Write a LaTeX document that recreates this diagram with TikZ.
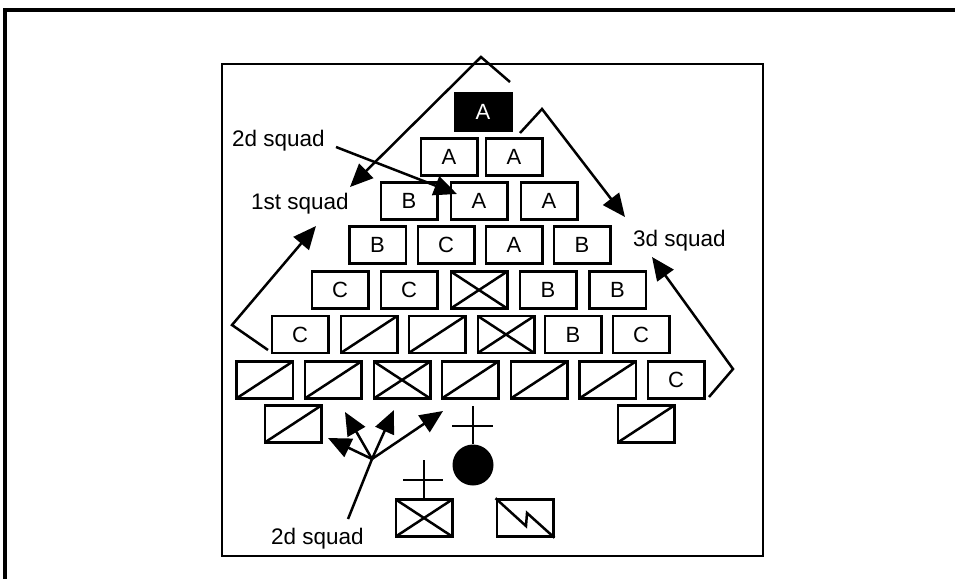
\documentclass[tikz,border=0pt]{standalone}
\usepackage{fontspec}
\setmainfont{Liberation Sans}
\usetikzlibrary{arrows.meta}
\newcommand{\boxfont}{\fontsize{22}{25}\selectfont}
\newcommand{\labfont}{\fontsize{22.5}{26}\selectfont}
\tikzset{
  unitbox/.style={draw, line width=2.5pt, minimum width=56.5pt, minimum height=37pt, inner sep=0pt, font=\boxfont},
  blackbox/.style={unitbox, fill=black, text=white},
  slashbox/.style={unitbox, path picture={\draw[line width=2.5pt] (path picture bounding box.south west) -- (path picture bounding box.north east);}},
  crossbox/.style={unitbox, path picture={\draw[line width=2.5pt] (path picture bounding box.south west) -- (path picture bounding box.north east) (path picture bounding box.north west) -- (path picture bounding box.south east);}},
  lab/.style={anchor=base west, inner sep=0pt, font=\labfont},
  arr/.style={line width=2.5pt, -{Triangle[length=23pt 0 0,width=20pt 0 0]}},
  ln/.style={line width=2.5pt},
}
\begin{document}
\begin{tikzpicture}[x=1pt,y=-1pt]
\useasboundingbox (0,0) rectangle (955,579);
% frames
\draw[line width=3.5pt] (955,10) -- (5,10) -- (5,579);
\draw[line width=2.8pt] (222,64) rectangle (763,556);
% row 1
\node[blackbox] (r1a) at (483,112) {A};
% row 2
\node[unitbox] (r2a) at (449,157) {A};
\node[unitbox] (r2b) at (514,157) {A};
% row 3
\node[unitbox] (r3a) at (409,201) {B};
\node[unitbox] (r3b) at (479,201) {A};
\node[unitbox] (r3c) at (549,201) {A};
% row 4
\node[unitbox] (r4a) at (377.5,245) {B};
\node[unitbox] (r4b) at (446,245) {C};
\node[unitbox] (r4c) at (514,245) {A};
\node[unitbox] (r4d) at (582,245) {B};
% row 5
\node[unitbox] (r5a) at (340,290) {C};
\node[unitbox] (r5b) at (409,290) {C};
\node[crossbox] (r5c) at (479,290) {};
\node[unitbox] (r5d) at (548,290) {B};
\node[unitbox] (r5e) at (617.5,290) {B};
% row 6
\node[unitbox] (r6a) at (300,334.5) {C};
\node[slashbox] (r6b) at (369,334.5) {};
\node[slashbox] (r6c) at (437,334.5) {};
\node[crossbox] (r6d) at (506,334.5) {};
\node[unitbox] (r6e) at (573,334.5) {B};
\node[unitbox] (r6f) at (641,334.5) {C};
% row 7
\node[slashbox] (r7a) at (264.5,380) {};
\node[slashbox] (r7b) at (333,380) {};
\node[crossbox] (r7c) at (402,380) {};
\node[slashbox] (r7d) at (470,380) {};
\node[slashbox] (r7e) at (539,380) {};
\node[slashbox] (r7f) at (607.5,380) {};
\node[unitbox] (r7g) at (676,380) {C};
% row 8
\node[slashbox] (r8a) at (293,424) {};
\node[slashbox] (r8b) at (646,424) {};
% bottom symbols
\node[crossbox] (hq) at (424,518) {};
\node[unitbox] (sig) at (525,518) {};
\draw[ln] (sig.north west) -- (526,526) -- (527,513) -- (sig.south east);
\node[circle, fill=black, minimum size=41pt, inner sep=0pt] (dot) at (473,465) {};
\coordinate (c1top) at (473,406);
\draw[ln] (c1top) -- (dot.north);
\coordinate (c1l) at (452,426); \coordinate (c1r) at (493,426);
\draw[ln] (c1l) -- (c1r);
\coordinate (c2top) at (hq.north |- 0,460);
\draw[ln] (c2top) -- (hq.north);
\coordinate (c2l) at (403,480); \coordinate (c2r) at (443,480);
\draw[ln] (c2l) -- (c2r);
% labels
\node[lab] (l2a) at (232,146) {2d squad};
\node[lab] (l1) at (251,209.5) {1st squad};
\node[lab] (l3) at (633,246) {3d squad};
\node[lab] (l2b) at (271,544) {2d squad};
% big arrows
\coordinate (a1s) at (510,82); \coordinate (a1m) at (481,57); \coordinate (a1e) at (350,187);
\draw[arr] (a1s) -- (a1m) -- (a1e);
\coordinate (a2s) at (520,133); \coordinate (a2m) at (542,109); \coordinate (a2e) at (625,217);
\draw[arr] (a2s) -- (a2m) -- (a2e);
\coordinate (a3s) at (336,147); \coordinate (a3e) at (457,194);
\draw[arr] (a3s) -- (a3e);
\coordinate (a4s) at (268,350); \coordinate (a4m) at (232,325); \coordinate (a4e) at (316,226);
\draw[arr] (a4s) -- (a4m) -- (a4e);
\coordinate (a5s) at (709,397); \coordinate (a5m) at (733,369); \coordinate (a5e) at (652,257);
\draw[arr] (a5s) -- (a5m) -- (a5e);
% fan
\coordinate (fb) at (372,459);
\coordinate (fs) at (348,519);
\draw[ln] (fs) -- (fb);
\coordinate (f1) at (328,438); \coordinate (f2) at (345,412);
\coordinate (f3) at (394,410); \coordinate (f4) at (443,411);
\draw[arr] (fb) -- (f1);
\draw[arr] (fb) -- (f2);
\draw[arr] (fb) -- (f3);
\draw[arr] (fb) -- (f4);
\end{tikzpicture}
\end{document}
